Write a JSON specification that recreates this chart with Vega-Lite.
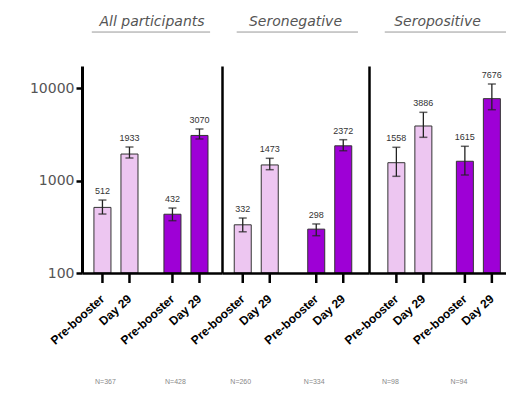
{
  "$schema": "https://vega.github.io/schema/vega-lite/v6.json",
  "background": "white",
  "padding": {"left": 29, "top": 14, "right": 0, "bottom": 0},
  "bounds": "flush",
  "spacing": 0,
  "config": {"view": {"stroke": null}, "font": "Liberation Sans"},
  "resolve": {"scale": {"x": "independent", "y": "independent", "xOffset": "independent"}},
  "datasets": {
    "gmt": [
      {"panel": "All participants", "cohort": "Cohort 1", "time": "Pre-booster", "value": 512, "lo": 434, "hi": 615, "nlabel": "N=367"},
      {"panel": "All participants", "cohort": "Cohort 1", "time": "Day 29", "value": 1933, "lo": 1751, "hi": 2303, "nlabel": "N=367"},
      {"panel": "All participants", "cohort": "Cohort 2", "time": "Pre-booster", "value": 432, "lo": 368, "hi": 504, "nlabel": "N=428"},
      {"panel": "All participants", "cohort": "Cohort 2", "time": "Day 29", "value": 3070, "lo": 2810, "hi": 3605, "nlabel": "N=428"},
      {"panel": "Seronegative", "cohort": "Cohort 1", "time": "Pre-booster", "value": 332, "lo": 279, "hi": 393, "nlabel": "N=260"},
      {"panel": "Seronegative", "cohort": "Cohort 1", "time": "Day 29", "value": 1473, "lo": 1309, "hi": 1738, "nlabel": "N=260"},
      {"panel": "Seronegative", "cohort": "Cohort 2", "time": "Pre-booster", "value": 298, "lo": 253, "hi": 339, "nlabel": "N=334"},
      {"panel": "Seronegative", "cohort": "Cohort 2", "time": "Day 29", "value": 2372, "lo": 2099, "hi": 2762, "nlabel": "N=334"},
      {"panel": "Seropositive", "cohort": "Cohort 1", "time": "Pre-booster", "value": 1558, "lo": 1110, "hi": 2286, "nlabel": "N=98"},
      {"panel": "Seropositive", "cohort": "Cohort 1", "time": "Day 29", "value": 3886, "lo": 2931, "hi": 5461, "nlabel": "N=98"},
      {"panel": "Seropositive", "cohort": "Cohort 2", "time": "Pre-booster", "value": 1615, "lo": 1147, "hi": 2344, "nlabel": "N=94"},
      {"panel": "Seropositive", "cohort": "Cohort 2", "time": "Day 29", "value": 7676, "lo": 5826, "hi": 11050, "nlabel": "N=94"}
    ]
  },
  "data": {"name": "gmt"},
  "hconcat": [
    {
      "width": 140, "height": 207,
      "title": {"text": "All participants", "fontSize": 14, "fontStyle": "italic", "fontWeight": "normal", "color": "#555", "font": "DejaVu Sans", "offset": 3, "anchor": "middle"},
      "transform": [{"filter": "datum.panel === 'All participants'"}],
      "layer": [
        {"mark": {"type": "rule", "color": "black", "strokeWidth": 2.5},
         "encoding": {"x": {"field": "cohort", "type": "nominal", "sort": ["Cohort 1", "Cohort 2"]}, "xOffset": {"field": "time", "type": "nominal", "sort": ["Pre-booster", "Day 29"]}, "y": {"datum": 100}, "y2": {"datum": 78}}},
        {"mark": {"type": "bar", "stroke": "#333", "strokeWidth": 1},
         "encoding": {
           "x": {"field": "cohort", "type": "nominal", "sort": ["Cohort 1", "Cohort 2"], "scale": {"paddingInner": 0, "paddingOuter": 0},
                 "axis": {"title": null, "labels": false, "ticks": false, "domain": true, "domainColor": "black", "domainWidth": 2.5, "zindex": 1}},
           "xOffset": {"field": "time", "type": "nominal", "sort": ["Pre-booster", "Day 29"], "scale": {"paddingInner": 0.37, "paddingOuter": 0.48, "align": 0.46}},
           "y": {"field": "value", "type": "quantitative", "scale": {"type": "log", "domain": [100, 17300], "nice": false},
                 "axis": {"values": [100, 1000, 10000], "format": "d", "title": null, "tickSize": 6, "tickWidth": 2.5, "tickColor": "black", "domainColor": "black", "domainWidth": 3, "labelFontSize": 14, "labelColor": "#555", "labelFont": "DejaVu Sans", "labelPadding": 2, "grid": false, "zindex": 1}},
           "y2": {"datum": 100},
           "color": {"field": "cohort", "type": "nominal", "scale": {"domain": ["Cohort 1", "Cohort 2"], "range": ["#edc6f1", "#9e00d6"]}, "legend": null}
         }},
        {"mark": {"type": "rule", "color": "#222", "strokeWidth": 1.3},
         "encoding": {"x": {"field": "cohort", "type": "nominal", "sort": ["Cohort 1", "Cohort 2"]}, "xOffset": {"field": "time", "type": "nominal", "sort": ["Pre-booster", "Day 29"]}, "y": {"field": "lo", "type": "quantitative"}, "y2": {"field": "hi"}}},
        {"mark": {"type": "tick", "color": "#222", "size": 8, "thickness": 1.5},
         "encoding": {"x": {"field": "cohort", "type": "nominal", "sort": ["Cohort 1", "Cohort 2"]}, "xOffset": {"field": "time", "type": "nominal", "sort": ["Pre-booster", "Day 29"]}, "y": {"field": "hi", "type": "quantitative"}}},
        {"mark": {"type": "tick", "color": "#222", "size": 8, "thickness": 1.5},
         "encoding": {"x": {"field": "cohort", "type": "nominal", "sort": ["Cohort 1", "Cohort 2"]}, "xOffset": {"field": "time", "type": "nominal", "sort": ["Pre-booster", "Day 29"]}, "y": {"field": "lo", "type": "quantitative"}}},
        {"mark": {"type": "text", "fontSize": 9, "font": "Liberation Sans", "color": "#333", "baseline": "bottom", "dy": -4},
         "encoding": {"x": {"field": "cohort", "type": "nominal", "sort": ["Cohort 1", "Cohort 2"]}, "xOffset": {"field": "time", "type": "nominal", "sort": ["Pre-booster", "Day 29"]}, "y": {"field": "hi", "type": "quantitative"}, "text": {"field": "value", "type": "quantitative", "format": "d"}}},
        {"mark": {"type": "text", "fontSize": 12, "fontWeight": "bold", "font": "Liberation Sans", "color": "black", "angle": -42, "align": "right", "baseline": "middle", "dx": -16, "dy": 18},
         "encoding": {"x": {"field": "cohort", "type": "nominal", "sort": ["Cohort 1", "Cohort 2"]}, "xOffset": {"field": "time", "type": "nominal", "sort": ["Pre-booster", "Day 29"]}, "y": {"datum": 100}, "text": {"field": "time"}}},
        {"transform": [{"filter": "datum.time === 'Pre-booster'"}],
         "mark": {"type": "text", "fontSize": 7, "font": "Liberation Sans", "color": "#888", "baseline": "middle", "dy": 109, "dx": 3},
         "encoding": {"x": {"field": "cohort", "type": "nominal", "sort": ["Cohort 1", "Cohort 2"]}, "xOffset": {"field": "time", "type": "nominal", "sort": ["Pre-booster", "Day 29"]}, "y": {"datum": 100}, "text": {"field": "nlabel"}}},
        {"transform": [{"filter": "datum.cohort === 'Cohort 1' && datum.time === 'Pre-booster'"}],
         "mark": {"type": "rule", "color": "#999", "strokeWidth": 1},
         "encoding": {"x": {"datum": "Cohort 1", "bandPosition": 0.14}, "x2": {"datum": "Cohort 2", "bandPosition": 0.83}, "y": {"datum": 40300}}}
      ]
    },
    {
      "width": 147, "height": 207,
      "title": {"text": "Seronegative", "fontSize": 14, "fontStyle": "italic", "fontWeight": "normal", "color": "#555", "font": "DejaVu Sans", "offset": 3, "anchor": "middle"},
      "transform": [{"filter": "datum.panel === 'Seronegative'"}],
      "layer": [
        {"mark": {"type": "rule", "color": "black", "strokeWidth": 2.5},
         "encoding": {"x": {"field": "cohort", "type": "nominal", "sort": ["Cohort 1", "Cohort 2"]}, "xOffset": {"field": "time", "type": "nominal", "sort": ["Pre-booster", "Day 29"]}, "y": {"datum": 100}, "y2": {"datum": 78}}},
        {"mark": {"type": "bar", "stroke": "#333", "strokeWidth": 1},
         "encoding": {
           "x": {"field": "cohort", "type": "nominal", "sort": ["Cohort 1", "Cohort 2"], "scale": {"paddingInner": 0, "paddingOuter": 0},
                 "axis": {"title": null, "labels": false, "ticks": false, "domain": true, "domainColor": "black", "domainWidth": 2.5, "zindex": 1}},
           "xOffset": {"field": "time", "type": "nominal", "sort": ["Pre-booster", "Day 29"], "scale": {"paddingInner": 0.37, "paddingOuter": 0.546, "align": 0.415}},
           "y": {"field": "value", "type": "quantitative", "scale": {"type": "log", "domain": [100, 17300], "nice": false},
                 "axis": {"title": null, "labels": false, "ticks": false, "domain": true, "domainColor": "black", "domainWidth": 2.5, "grid": false, "zindex": 1}},
           "y2": {"datum": 100},
           "color": {"field": "cohort", "type": "nominal", "scale": {"domain": ["Cohort 1", "Cohort 2"], "range": ["#edc6f1", "#9e00d6"]}, "legend": null}
         }},
        {"mark": {"type": "rule", "color": "#222", "strokeWidth": 1.3},
         "encoding": {"x": {"field": "cohort", "type": "nominal", "sort": ["Cohort 1", "Cohort 2"]}, "xOffset": {"field": "time", "type": "nominal", "sort": ["Pre-booster", "Day 29"]}, "y": {"field": "lo", "type": "quantitative"}, "y2": {"field": "hi"}}},
        {"mark": {"type": "tick", "color": "#222", "size": 8, "thickness": 1.5},
         "encoding": {"x": {"field": "cohort", "type": "nominal", "sort": ["Cohort 1", "Cohort 2"]}, "xOffset": {"field": "time", "type": "nominal", "sort": ["Pre-booster", "Day 29"]}, "y": {"field": "hi", "type": "quantitative"}}},
        {"mark": {"type": "tick", "color": "#222", "size": 8, "thickness": 1.5},
         "encoding": {"x": {"field": "cohort", "type": "nominal", "sort": ["Cohort 1", "Cohort 2"]}, "xOffset": {"field": "time", "type": "nominal", "sort": ["Pre-booster", "Day 29"]}, "y": {"field": "lo", "type": "quantitative"}}},
        {"mark": {"type": "text", "fontSize": 9, "font": "Liberation Sans", "color": "#333", "baseline": "bottom", "dy": -4},
         "encoding": {"x": {"field": "cohort", "type": "nominal", "sort": ["Cohort 1", "Cohort 2"]}, "xOffset": {"field": "time", "type": "nominal", "sort": ["Pre-booster", "Day 29"]}, "y": {"field": "hi", "type": "quantitative"}, "text": {"field": "value", "type": "quantitative", "format": "d"}}},
        {"mark": {"type": "text", "fontSize": 12, "fontWeight": "bold", "font": "Liberation Sans", "color": "black", "angle": -42, "align": "right", "baseline": "middle", "dx": -16, "dy": 18},
         "encoding": {"x": {"field": "cohort", "type": "nominal", "sort": ["Cohort 1", "Cohort 2"]}, "xOffset": {"field": "time", "type": "nominal", "sort": ["Pre-booster", "Day 29"]}, "y": {"datum": 100}, "text": {"field": "time"}}},
        {"transform": [{"filter": "datum.time === 'Pre-booster'"}],
         "mark": {"type": "text", "fontSize": 7, "font": "Liberation Sans", "color": "#888", "baseline": "middle", "dy": 109, "dx": -2},
         "encoding": {"x": {"field": "cohort", "type": "nominal", "sort": ["Cohort 1", "Cohort 2"]}, "xOffset": {"field": "time", "type": "nominal", "sort": ["Pre-booster", "Day 29"]}, "y": {"datum": 100}, "text": {"field": "nlabel"}}},
        {"transform": [{"filter": "datum.cohort === 'Cohort 1' && datum.time === 'Pre-booster'"}],
         "mark": {"type": "rule", "color": "#999", "strokeWidth": 1},
         "encoding": {"x": {"datum": "Cohort 1", "bandPosition": 0.2}, "x2": {"datum": "Cohort 2", "bandPosition": 0.85}, "y": {"datum": 40300}}}
      ]
    },
    {
      "width": 137, "height": 207,
      "title": {"text": "Seropositive", "fontSize": 14, "fontStyle": "italic", "fontWeight": "normal", "color": "#555", "font": "DejaVu Sans", "offset": 3, "anchor": "middle"},
      "transform": [{"filter": "datum.panel === 'Seropositive'"}],
      "layer": [
        {"mark": {"type": "rule", "color": "black", "strokeWidth": 2.5},
         "encoding": {"x": {"field": "cohort", "type": "nominal", "sort": ["Cohort 1", "Cohort 2"]}, "xOffset": {"field": "time", "type": "nominal", "sort": ["Pre-booster", "Day 29"]}, "y": {"datum": 100}, "y2": {"datum": 78}}},
        {"mark": {"type": "bar", "stroke": "#333", "strokeWidth": 1},
         "encoding": {
           "x": {"field": "cohort", "type": "nominal", "sort": ["Cohort 1", "Cohort 2"], "scale": {"paddingInner": 0, "paddingOuter": 0},
                 "axis": {"title": null, "labels": false, "ticks": false, "domain": true, "domainColor": "black", "domainWidth": 2.5, "zindex": 1}},
           "xOffset": {"field": "time", "type": "nominal", "sort": ["Pre-booster", "Day 29"], "scale": {"paddingInner": 0.37, "paddingOuter": 0.454, "align": 0.77}},
           "y": {"field": "value", "type": "quantitative", "scale": {"type": "log", "domain": [100, 17300], "nice": false},
                 "axis": {"title": null, "labels": false, "ticks": false, "domain": true, "domainColor": "black", "domainWidth": 2.5, "grid": false, "zindex": 1}},
           "y2": {"datum": 100},
           "color": {"field": "cohort", "type": "nominal", "scale": {"domain": ["Cohort 1", "Cohort 2"], "range": ["#edc6f1", "#9e00d6"]}, "legend": null}
         }},
        {"mark": {"type": "rule", "color": "#222", "strokeWidth": 1.3},
         "encoding": {"x": {"field": "cohort", "type": "nominal", "sort": ["Cohort 1", "Cohort 2"]}, "xOffset": {"field": "time", "type": "nominal", "sort": ["Pre-booster", "Day 29"]}, "y": {"field": "lo", "type": "quantitative"}, "y2": {"field": "hi"}}},
        {"mark": {"type": "tick", "color": "#222", "size": 8, "thickness": 1.5},
         "encoding": {"x": {"field": "cohort", "type": "nominal", "sort": ["Cohort 1", "Cohort 2"]}, "xOffset": {"field": "time", "type": "nominal", "sort": ["Pre-booster", "Day 29"]}, "y": {"field": "hi", "type": "quantitative"}}},
        {"mark": {"type": "tick", "color": "#222", "size": 8, "thickness": 1.5},
         "encoding": {"x": {"field": "cohort", "type": "nominal", "sort": ["Cohort 1", "Cohort 2"]}, "xOffset": {"field": "time", "type": "nominal", "sort": ["Pre-booster", "Day 29"]}, "y": {"field": "lo", "type": "quantitative"}}},
        {"mark": {"type": "text", "fontSize": 9, "font": "Liberation Sans", "color": "#333", "baseline": "bottom", "dy": -4},
         "encoding": {"x": {"field": "cohort", "type": "nominal", "sort": ["Cohort 1", "Cohort 2"]}, "xOffset": {"field": "time", "type": "nominal", "sort": ["Pre-booster", "Day 29"]}, "y": {"field": "hi", "type": "quantitative"}, "text": {"field": "value", "type": "quantitative", "format": "d"}}},
        {"mark": {"type": "text", "fontSize": 12, "fontWeight": "bold", "font": "Liberation Sans", "color": "black", "angle": -42, "align": "right", "baseline": "middle", "dx": -16, "dy": 18},
         "encoding": {"x": {"field": "cohort", "type": "nominal", "sort": ["Cohort 1", "Cohort 2"]}, "xOffset": {"field": "time", "type": "nominal", "sort": ["Pre-booster", "Day 29"]}, "y": {"datum": 100}, "text": {"field": "time"}}},
        {"transform": [{"filter": "datum.time === 'Pre-booster'"}],
         "mark": {"type": "text", "fontSize": 7, "font": "Liberation Sans", "color": "#888", "baseline": "middle", "dy": 109, "dx": -6},
         "encoding": {"x": {"field": "cohort", "type": "nominal", "sort": ["Cohort 1", "Cohort 2"]}, "xOffset": {"field": "time", "type": "nominal", "sort": ["Pre-booster", "Day 29"]}, "y": {"datum": 100}, "text": {"field": "nlabel"}}},
        {"transform": [{"filter": "datum.cohort === 'Cohort 1' && datum.time === 'Pre-booster'"}],
         "mark": {"type": "rule", "color": "#999", "strokeWidth": 1},
         "encoding": {"x": {"datum": "Cohort 1", "bandPosition": 0.23}, "x2": {"datum": "Cohort 2", "bandPosition": 1}, "y": {"datum": 40300}}}
      ]
    }
  ]
}
